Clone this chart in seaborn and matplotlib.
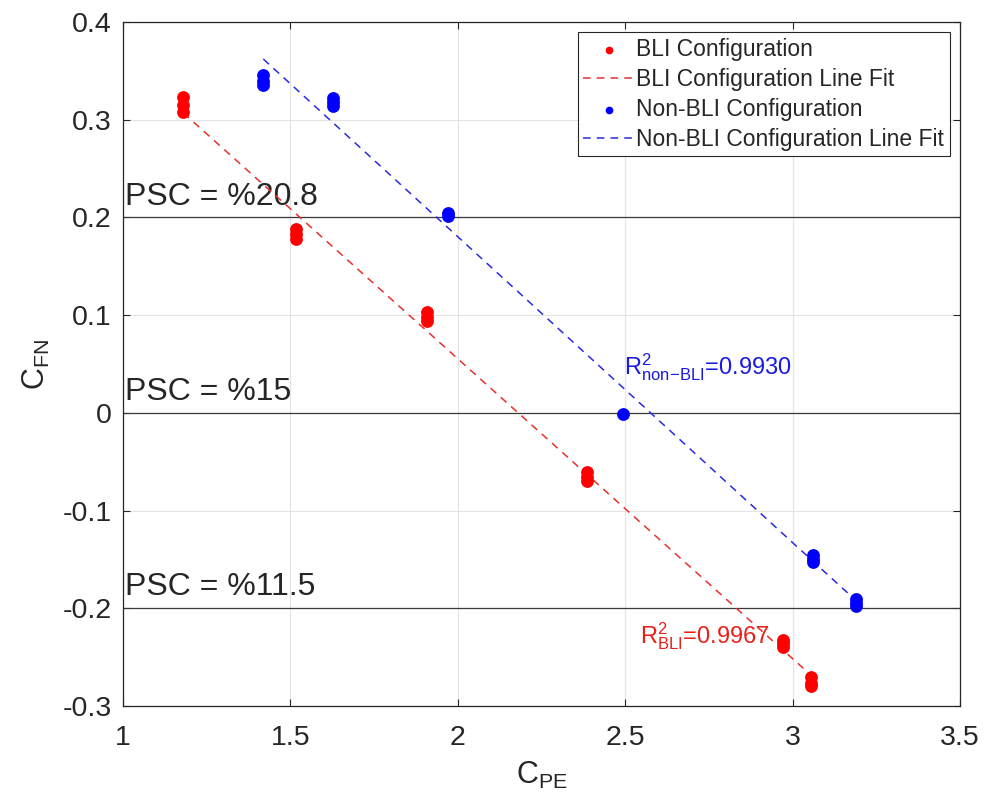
import numpy as np
import pandas as pd
import matplotlib
matplotlib.use("Agg")
import matplotlib.pyplot as plt
import seaborn as sns

# Measured power-saving data: propulsive efficiency coefficient vs net force coefficient
bli_cpe = [1.18, 1.18, 1.18, 1.517, 1.517, 1.517, 1.908, 1.908, 1.908,
           2.386, 2.386, 2.386, 2.971, 2.971, 2.971, 3.055, 3.055, 3.055]
bli_cfn = [0.323, 0.315, 0.308, 0.188, 0.183, 0.178, 0.103, 0.098, 0.094,
           -0.061, -0.066, -0.070, -0.232, -0.236, -0.240, -0.270, -0.276, -0.280]

nonbli_cpe = [1.419, 1.419, 1.419, 1.628, 1.628, 1.628, 1.97, 1.97,
              2.494, 3.062, 3.062, 3.062, 3.19, 3.19, 3.19]
nonbli_cfn = [0.346, 0.340, 0.335, 0.322, 0.318, 0.314, 0.205, 0.201,
              -0.001, -0.146, -0.150, -0.153, -0.191, -0.195, -0.198]

psc_levels = [0.2, 0.0, -0.2]
psc_labels = ["PSC = %20.8", "PSC = %15", "PSC = %11.5"]

r2_bli = "0.9967"
r2_nonbli = "0.9930"

sns.set_theme(style="white")
plt.rcParams["font.family"] = ["Liberation Sans", "DejaVu Sans"]
plt.rcParams["mathtext.fontset"] = "custom"
plt.rcParams["mathtext.rm"] = "Liberation Sans"
plt.rcParams["mathtext.it"] = "Liberation Sans"

fig = plt.figure(figsize=(9.89, 8.11), dpi=100)
ax = fig.add_axes([0.1244, 0.1295, 0.8463, 0.8434])

bli = pd.DataFrame({"cpe": bli_cpe, "cfn": bli_cfn})
non = pd.DataFrame({"cpe": nonbli_cpe, "cfn": nonbli_cfn})

# PSC reference lines
for lvl, lab in zip(psc_levels, psc_labels):
    ax.axhline(lvl, color="#3a3a3a", lw=0.9, zorder=1)
    ax.text(1.005, lvl + 0.006, lab, fontsize=23, color="#262626",
            ha="left", va="bottom", zorder=2)

def fit_frame(df):
    k, b = np.polyfit(df["cpe"], df["cfn"], 1)
    xs = np.array([df["cpe"].min(), df["cpe"].max()])
    return pd.DataFrame({"cpe": xs, "cfn": k * xs + b})

sns.scatterplot(data=bli, x="cpe", y="cfn", color="red", s=85, edgecolor="red",
                linewidth=0, ax=ax, zorder=4, label="BLI Configuration")
sns.lineplot(data=fit_frame(bli), x="cpe", y="cfn", color="#e8302a", lw=1.1,
             linestyle=(0, (5, 4)), ax=ax, zorder=3, label="BLI Configuration Line Fit")
sns.scatterplot(data=non, x="cpe", y="cfn", color="blue", s=85, edgecolor="blue",
                linewidth=0, ax=ax, zorder=4, label="Non-BLI Configuration")
sns.lineplot(data=fit_frame(non), x="cpe", y="cfn", color="#2a2ae0", lw=1.1,
             linestyle=(0, (5, 4)), ax=ax, zorder=3, label="Non-BLI Configuration Line Fit")

ax.text(2.545, -0.229, r"R$^2_{\mathrm{BLI}}$=" + r2_bli, color="#e8201a",
        fontsize=17, ha="left", va="center", zorder=5)
ax.text(2.497, 0.047, r"R$^2_{\mathrm{non\!-\!BLI}}$=" + r2_nonbli, color="#1a1ae0",
        fontsize=17, ha="left", va="center", zorder=5)

ax.set_xlim(1, 3.5)
ax.set_ylim(-0.3, 0.4)
ax.set_xticks([1, 1.5, 2, 2.5, 3, 3.5])
ax.set_xticklabels(["1", "1.5", "2", "2.5", "3", "3.5"])
ax.set_yticks([-0.3, -0.2, -0.1, 0, 0.1, 0.2, 0.3, 0.4])
ax.set_yticklabels(["-0.3", "-0.2", "-0.1", "0", "0.1", "0.2", "0.3", "0.4"])
ax.tick_params(axis="both", labelsize=20.5, colors="#262626", direction="in",
               length=5, width=0.8, bottom=True, left=True, top=True, right=True,
               labeltop=False, labelright=False)
ax.tick_params(axis="x", pad=14)
ax.tick_params(axis="y", pad=8)
ax.grid(True, color="#e3e3e3", lw=0.8, zorder=0)
for sp in ax.spines.values():
    sp.set_color("#262626")
    sp.set_linewidth(0.9)

ax.set_xlabel(r"C$_{\mathrm{PE}}$", fontsize=22, color="#262626", labelpad=6)
ax.set_ylabel(r"C$_{\mathrm{FN}}$", fontsize=22, color="#262626", labelpad=8)

leg = ax.legend(loc="upper right", fontsize=16.5, frameon=True, fancybox=False,
                edgecolor="#262626", framealpha=1, borderpad=0.25, labelspacing=0.3,
                handlelength=2.2, handletextpad=0.1, borderaxespad=0.45,
                markerscale=0.6)
leg.get_frame().set_linewidth(0.8)

fig.savefig("out.png", dpi=100, facecolor="white")
